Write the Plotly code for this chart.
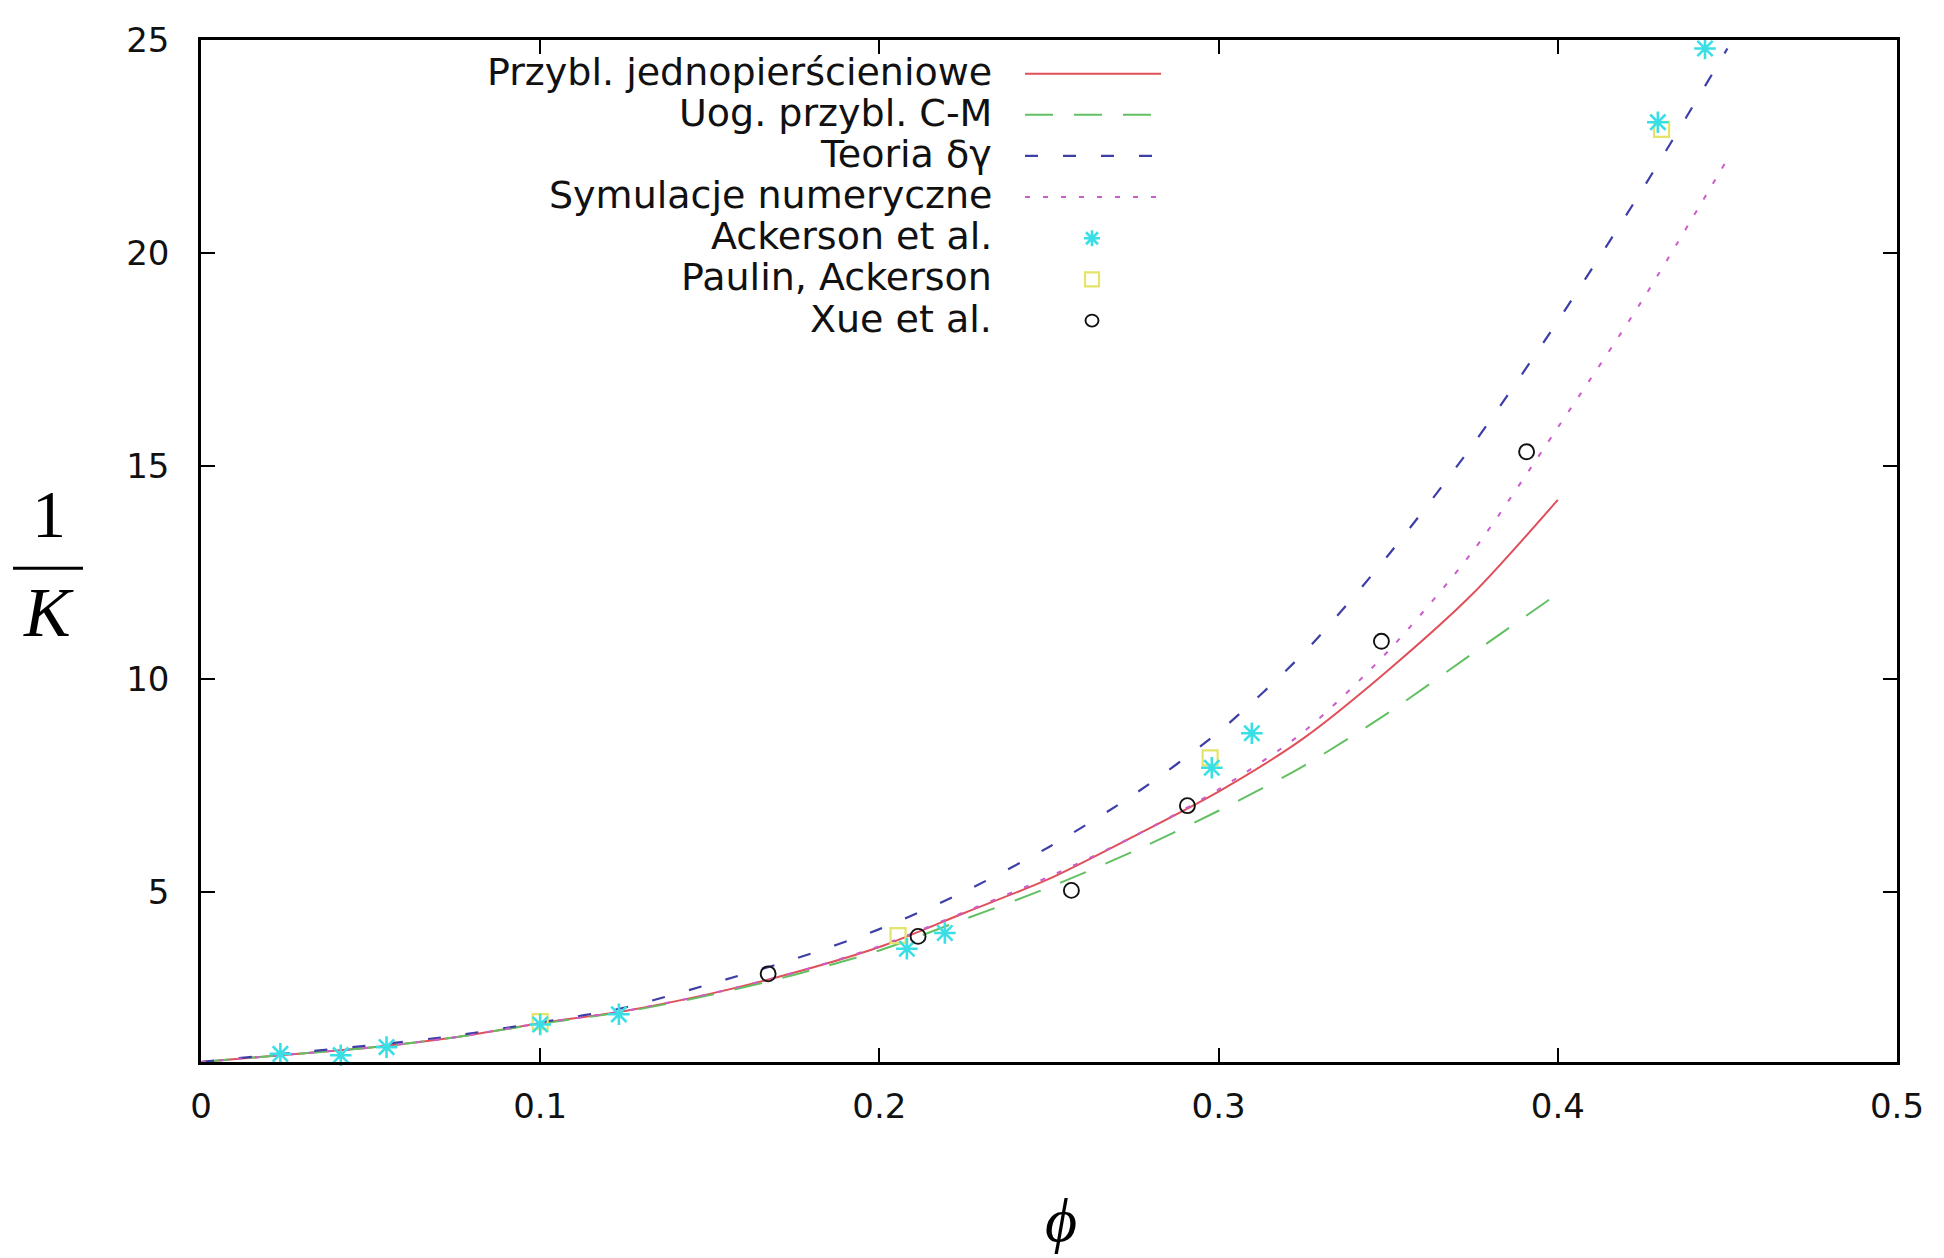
import plotly.graph_objects as go

# ---------------- data ----------------
PHI_RED = [0, 0.025, 0.05, 0.075, 0.1, 0.125, 0.15, 0.175, 0.2, 0.225, 0.25, 0.275, 0.3, 0.325, 0.35, 0.375, 0.4]
K_RED = [1.0, 1.17, 1.34, 1.58, 1.91, 2.2, 2.6, 3.1, 3.7, 4.5, 5.3, 6.3, 7.35, 8.6, 10.2, 12.0, 14.2]

PHI_GREEN = [0, 0.025, 0.05, 0.075, 0.1, 0.125, 0.15, 0.175, 0.2, 0.225, 0.25, 0.275, 0.3, 0.325, 0.35, 0.375, 0.4]
K_GREEN = [1.0, 1.17, 1.34, 1.58, 1.9, 2.18, 2.57, 3.05, 3.62, 4.35, 5.1, 5.95, 6.9, 7.95, 9.2, 10.6, 12.0]

PHI_BLUE = [0, 0.025, 0.05, 0.075, 0.1, 0.125, 0.15, 0.175, 0.2, 0.225, 0.25, 0.275, 0.3, 0.325, 0.35, 0.375, 0.4, 0.425, 0.45]
K_BLUE = [1.0, 1.2, 1.39, 1.62, 1.93, 2.28, 2.83, 3.42, 4.12, 5.0, 6.05, 7.28, 8.75, 10.6, 12.9, 15.5, 18.4, 21.5, 24.8]

PHI_MAG = [0, 0.025, 0.05, 0.075, 0.1, 0.125, 0.15, 0.175, 0.2, 0.225, 0.25, 0.275, 0.3, 0.325, 0.35, 0.375, 0.4, 0.425, 0.45]
K_MAG = [1.0, 1.17, 1.34, 1.58, 1.91, 2.2, 2.6, 3.1, 3.72, 4.52, 5.35, 6.3, 7.4, 8.75, 10.65, 13.0, 15.9, 18.9, 22.2]

PHI_ACK = [0.0234, 0.0412, 0.0547, 0.100, 0.1232, 0.2081, 0.2193, 0.298, 0.3098, 0.4295, 0.4434]
K_ACK = [1.19, 1.16, 1.35, 1.88, 2.12, 3.66, 4.03, 7.91, 8.72, 23.07, 24.8]

PHI_PAU = [0.100, 0.2055, 0.2975, 0.4306]
K_PAU = [1.95, 3.97, 8.14, 22.9]

PHI_XUE = [0.1672, 0.2114, 0.2566, 0.2908, 0.348, 0.3908]
K_XUE = [3.07, 3.95, 5.03, 7.02, 10.88, 15.33]

X_TICKS = [0, 0.1, 0.2, 0.3, 0.4, 0.5]
X_TICKTEXT = ["0", "0.1", "0.2", "0.3", "0.4", "0.5"]
Y_TICKS = [5, 10, 15, 20, 25]
Y_TICKTEXT = ["5", "10", "15", "20", "25"]

LEGEND_LABELS = ["Przybl. jednopierścieniowe", "Uog. przybl. C-M", "Teoria δγ",
                 "Symulacje numeryczne", "Ackerson et al.", "Paulin, Ackerson", "Xue et al."]

# ---------------- styles ----------------
RED = "#e0505a"
GREEN = "#62c062"
BLUE = "#3e3ea8"
MAG = "#cc5ccc"
CYAN = "#3adfe6"
YELLOW = "#e4e46a"
BLACK = "#111111"

# the page body has an 8px margin: figure coordinates = page coordinates - 8
OFF = 8
PAGE_W, PAGE_H = 1944, 1258
W_PX, H_PX = PAGE_W - OFF, PAGE_H - OFF
L, R, T, B = 201 - OFF, 1897 - OFF, 29 - OFF, 1062 - OFF
PW, PH = R - L, B - T


def px(xpage):
    return (xpage - OFF - L) / PW


def py(ypage):
    return 1 - (ypage - OFF - T) / PH


fig = go.Figure()

fig.add_trace(go.Scatter(x=PHI_RED, y=K_RED, mode="lines", line=dict(color=RED, width=2, shape="spline", smoothing=0.8), showlegend=False))
fig.add_trace(go.Scatter(x=PHI_GREEN, y=K_GREEN, mode="lines", line=dict(color=GREEN, width=2, dash="28px,21px", shape="spline", smoothing=0.8), showlegend=False))
fig.add_trace(go.Scatter(x=PHI_BLUE, y=K_BLUE, mode="lines", line=dict(color=BLUE, width=2.2, dash="13px,25px", shape="spline", smoothing=0.8), showlegend=False))
fig.add_trace(go.Scatter(x=PHI_MAG, y=K_MAG, mode="lines", line=dict(color=MAG, width=2, dash="5px,13px", shape="spline", smoothing=0.8), showlegend=False))

fig.add_trace(go.Scatter(x=PHI_PAU, y=K_PAU, mode="markers", cliponaxis=False,
                         marker=dict(symbol="square-open", size=15, color=YELLOW, line=dict(width=2.2, color=YELLOW)), showlegend=False))
fig.add_trace(go.Scatter(x=PHI_ACK, y=K_ACK, mode="markers", cliponaxis=False,
                         marker=dict(symbol="asterisk-open", size=18, color=CYAN, line=dict(width=2.6, color=CYAN)), showlegend=False))
fig.add_trace(go.Scatter(x=PHI_XUE, y=K_XUE, mode="markers", cliponaxis=False,
                         marker=dict(symbol="circle-open", size=15, color=BLACK, line=dict(width=1.9, color=BLACK)), showlegend=False))

# ---------------- manual legend (text right aligned, key to the right) ----------------
LEG_TEXT_RIGHT = 994
LEG_KEY_X0, LEG_KEY_X1, LEG_MARK_X = 1025, 1161, 1092
LEG_ROW0, LEG_ROW_STEP = 61, 41.6
LEG_FONT = dict(family="DejaVu Sans, Liberation Sans, sans-serif", size=38, color="#111111")

annotations = []
shapes = []
for i, lab in enumerate(LEGEND_LABELS):
    yr = LEG_ROW0 + i * LEG_ROW_STEP
    annotations.append(dict(x=px(LEG_TEXT_RIGHT), y=py(yr), xref="paper", yref="paper", text=lab,
                            showarrow=False, xanchor="right", yanchor="middle", font=LEG_FONT))

line_keys = [(RED, "solid", 2), (GREEN, "28px,21px", 2), (BLUE, "13px,25px", 2.2), (MAG, "5px,13px", 2)]
for i, (c, d, w) in enumerate(line_keys):
    yr = py(LEG_ROW0 + 2 + i * LEG_ROW_STEP)
    shapes.append(dict(type="line", xref="paper", yref="paper", x0=px(LEG_KEY_X0), x1=px(LEG_KEY_X1),
                       y0=yr, y1=yr, line=dict(color=c, width=w, dash=d)))

ya = py(LEG_ROW0 + 2 + 4 * LEG_ROW_STEP)
shapes.append(dict(type="path", xref="paper", yref="paper", xsizemode="pixel", ysizemode="pixel",
                   xanchor=px(LEG_MARK_X), yanchor=ya,
                   path="M -8 0 L 8 0 M 0 -8 L 0 8 M -6 -6 L 6 6 M -6 6 L 6 -6",
                   line=dict(color=CYAN, width=2.6)))
ys = py(LEG_ROW0 + 2 + 5 * LEG_ROW_STEP)
shapes.append(dict(type="rect", xref="paper", yref="paper", xsizemode="pixel", ysizemode="pixel",
                   xanchor=px(LEG_MARK_X), yanchor=ys, x0=-7, x1=7, y0=-7, y1=7,
                   line=dict(color=YELLOW, width=2.2)))
yc = py(LEG_ROW0 + 2 + 6 * LEG_ROW_STEP)
shapes.append(dict(type="circle", xref="paper", yref="paper", xsizemode="pixel", ysizemode="pixel",
                   xanchor=px(LEG_MARK_X), yanchor=yc, x0=-6.5, x1=6.5, y0=-6, y1=6,
                   line=dict(color=BLACK, width=1.9)))

# ---------------- axis titles (1/K fraction and phi) ----------------
SERIF = "Liberation Serif, DejaVu Serif, serif"
annotations.append(dict(x=px(49), y=py(508), xref="paper", yref="paper", text="1", showarrow=False,
                        xanchor="center", yanchor="middle", font=dict(family=SERIF, size=68, color="black")))
shapes.append(dict(type="line", xref="paper", yref="paper", x0=px(13), x1=px(83), y0=py(563), y1=py(563),
                   line=dict(color="black", width=3)))
annotations.append(dict(x=px(48), y=py(608), xref="paper", yref="paper", text="<i>K</i>", showarrow=False,
                        xanchor="center", yanchor="middle", font=dict(family=SERIF, size=70, color="black")))
annotations.append(dict(x=px(1061), y=py(1222), xref="paper", yref="paper", text="<i>ϕ</i>", showarrow=False,
                        xanchor="center", yanchor="middle", font=dict(family=SERIF, size=62, color="black")))

TICK_FONT = dict(family="DejaVu Sans, Liberation Sans, sans-serif", size=34, color="#111111")

fig.update_layout(
    width=W_PX, height=H_PX,
    margin=dict(l=L, r=W_PX - R, t=T, b=H_PX - B, pad=0),
    paper_bgcolor="white", plot_bgcolor="white",
    showlegend=False,
    annotations=annotations, shapes=shapes,
    xaxis=dict(range=[0, 0.5], tickvals=X_TICKS, ticktext=X_TICKTEXT, ticks="inside", ticklen=14,
               tickwidth=2, tickcolor="black", showline=True, linecolor="black", linewidth=2.5,
               mirror="ticks", showgrid=False, zeroline=False, tickfont=TICK_FONT, ticklabelstandoff=12),
    yaxis=dict(range=[1, 25], tickvals=Y_TICKS, ticktext=Y_TICKTEXT, ticks="inside", ticklen=14,
               tickwidth=2, tickcolor="black", showline=True, linecolor="black", linewidth=2.5,
               mirror="ticks", showgrid=False, zeroline=False, tickfont=TICK_FONT, ticklabelstandoff=22),
)

fig.write_html("out.html")
